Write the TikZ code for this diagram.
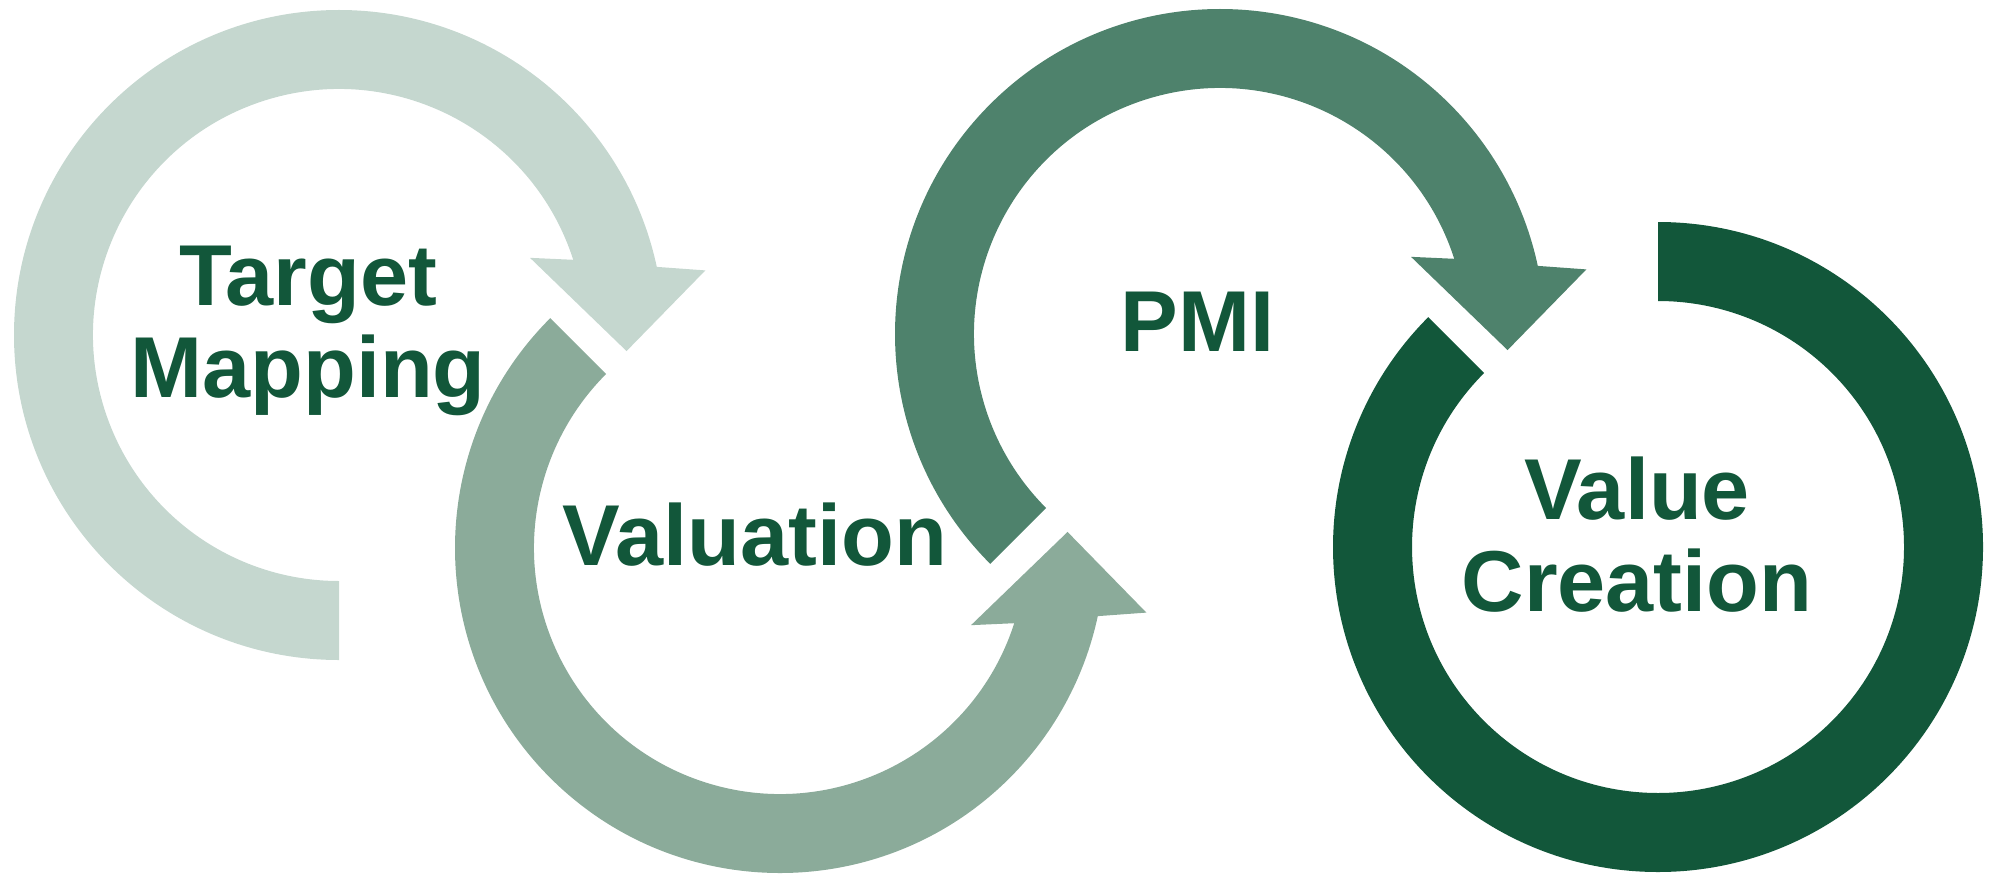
\documentclass[tikz,border=0pt]{standalone}
\usepackage{fontspec}
\setmainfont{Liberation Sans}
\definecolor{mapgreen}{HTML}{C5D7CF}
\definecolor{valgreen}{HTML}{8BAB9A}
\definecolor{pmigreen}{HTML}{4E826C}
\definecolor{vcgreen}{HTML}{12573A}
\definecolor{labelgreen}{HTML}{12573A}

\begin{document}
\begin{tikzpicture}[stage/.style={font=\fontsize{24.6}{26.2}\selectfont\bfseries, text=labelgreen, align=center, inner sep=0pt}]
% Ring radii
\def\ro{3.25} % outer edge
\def\ri{2.46} % inner edge
\useasboundingbox (0,0) rectangle (19.93,8.74);

% Target Mapping ring: tail at the bottom, head on the right pointing down
\fill[mapgreen, shift={(3.39,5.39)}] (270:\ro) arc[start angle=270, end angle=12.1, radius=\ro]
  -- (10:3.72) -- (-3.2:2.88) -- (22:2.06) -- (17.8:\ri)
  arc[start angle=17.8, end angle=270, radius=\ri] -- cycle;

% Valuation ring: tail at the upper left, head on the right pointing up
\fill[valgreen, shift={(7.80,3.26)}] (135:\ro) arc[start angle=135, end angle=347.9, radius=\ro]
  -- (-10:3.72) -- (3.2:2.88) -- (-22:2.06) -- (-17.8:\ri)
  arc[start angle=342.2, end angle=135, radius=\ri] -- cycle;

% PMI ring: tail at the lower left, head on the right pointing down
\fill[pmigreen, shift={(12.20,5.40)}] (225:\ro) arc[start angle=225, end angle=12.1, radius=\ro]
  -- (10:3.72) -- (-3.2:2.88) -- (22:2.06) -- (17.8:\ri)
  arc[start angle=17.8, end angle=225, radius=\ri] -- cycle;

% Value Creation ring, open at the top left
\fill[vcgreen, shift={(16.58,3.27)}] (90:\ro) arc[start angle=90, end angle=-225, radius=\ro]
  -- (135:\ri) arc[start angle=-225, end angle=90, radius=\ri] -- cycle;

% Labels
\node[stage] (target) at (3.08,5.43) {Target\\Mapping};
\node[stage] (valuation) at (7.55,3.39) {Valuation};
\node[stage] (pmi) at (11.975,5.52) {PMI};
\node[stage] (creation) at (16.37,3.39) {Value\\Creation};
\end{tikzpicture}
\end{document}
